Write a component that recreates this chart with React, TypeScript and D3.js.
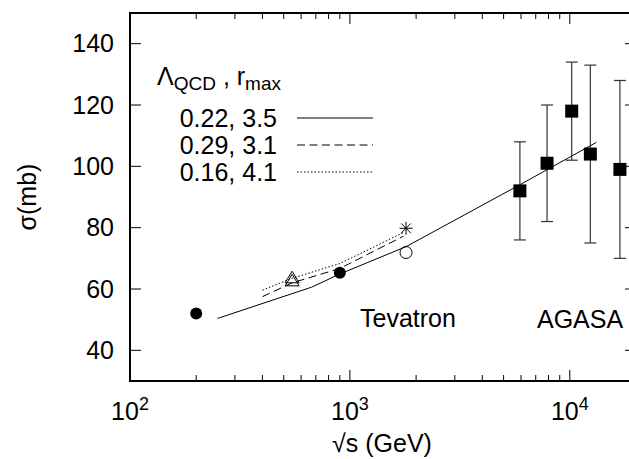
import React from "react";
import * as d3 from "d3";

// ---------- data ----------
const solidX = [250, 670, 900, 1800, 6000, 13200];
const solidY = [50.4, 60.6, 64.9, 73.8, 94.2, 107.8];
const dashedX = [400, 546, 900, 1750];
const dashedY = [57.5, 62.0, 66.7, 77.2];
const dottedX = [400, 546, 900, 1750];
const dottedY = [59.6, 63.5, 68.3, 78.4];

const filledCircleX = [200, 900];
const filledCircleY = [52.0, 65.3];
const triangleX = [546, 546];
const triangleY = [62.4, 63.4];
const starX = [1800];
const starY = [79.8];
const openCircleX = [1800];
const openCircleY = [71.9];

const agasaX = [5930, 7880, 10200, 12400, 16900];
const agasaY = [92, 101, 118, 104, 99];
const agasaErr = [16, 19, 16, 29, 29];

const yTicks = [40, 60, 80, 100, 120, 140];
const xMajor = [100, 1000, 10000];
const xMajorExp = ["2", "3", "4"];
const legendLabels = ["0.22, 3.5", "0.29, 3.1", "0.16, 4.1"];

// ---------- layout ----------
const W = 629;
const H = 459;
const FONT = "'Liberation Sans', Arial, Helvetica, sans-serif";
const FS = 25;

export default function App() {
  const x = d3.scaleLog().domain([100, 20000]).range([130, 636]);
  const y = d3.scaleLinear().domain([30, 150]).range([381, 13]);
  const L = x.range()[0];
  const R = x.range()[1];
  const B = y.range()[0];
  const T = y.range()[1];

  const line = d3
    .line<[number, number]>()
    .x((d) => x(d[0]))
    .y((d) => y(d[1]));
  const zip = (a: number[], b: number[]) => a.map((v, i) => [v, b[i]] as [number, number]);

  const minor: number[] = [];
  for (const dec of [100, 1000, 10000]) {
    for (let k = 2; k <= 9; k++) {
      const v = dec * k;
      if (v < 20000) minor.push(v);
    }
  }

  const majLen = 11;
  const minLen = 6;

  const triPath = (cx: number, cy: number, s: number) =>
    `M${cx},${cy - s * 1.05}L${cx + s},${cy + s * 0.6}L${cx - s},${cy + s * 0.6}Z`;

  const legendRowsY = [118, 145, 172];
  const legendDash = ["none", "8,4.5", "1.5,2"];

  return (
    <svg
      width={W}
      height={H}
      style={{ position: "absolute", left: 0, top: 0, background: "#fff" }}
      fontFamily={FONT}
    >
      <rect x={0} y={0} width={W} height={H} fill="#fff" />

      {/* ticks */}
      {yTicks.map((t) => (
        <g key={"yt" + t} stroke="#000" strokeWidth={1}>
          <line x1={L} x2={L + majLen} y1={y(t)} y2={y(t)} />
          <line x1={R} x2={R - majLen} y1={y(t)} y2={y(t)} />
        </g>
      ))}
      {xMajor.map((t) => (
        <g key={"xt" + t} stroke="#000" strokeWidth={1}>
          <line x1={x(t)} x2={x(t)} y1={B} y2={B - majLen} />
          <line x1={x(t)} x2={x(t)} y1={T} y2={T + majLen} />
        </g>
      ))}
      {minor.map((t) => (
        <g key={"xm" + t} stroke="#000" strokeWidth={1}>
          <line x1={x(t)} x2={x(t)} y1={B} y2={B - minLen} />
          <line x1={x(t)} x2={x(t)} y1={T} y2={T + minLen} />
        </g>
      ))}

      {/* border */}
      <rect x={L} y={T} width={R - L} height={B - T} fill="none" stroke="#000" strokeWidth={2} />

      {/* tick labels */}
      {yTicks.map((t) => (
        <text key={"yl" + t} x={114} y={y(t)} dy="0.35em" textAnchor="end" fontSize={FS}>
          {t}
        </text>
      ))}
      {xMajor.map((t, i) => (
        <text key={"xl" + t} x={x(t)} y={420} textAnchor="middle" fontSize={FS}>
          10
          <tspan fontSize={18} dy={-10}>
            {xMajorExp[i]}
          </tspan>
        </text>
      ))}

      {/* axis labels */}
      <text x={382} y={452} textAnchor="middle" fontSize={FS}>
        √s (GeV)
      </text>
      <text transform="translate(36,197) rotate(-90)" textAnchor="middle" fontSize={FS}>
        σ(mb)
      </text>

      {/* curves */}
      <path d={line(zip(solidX, solidY)) || ""} fill="none" stroke="#000" strokeWidth={1} />
      <path
        d={line(zip(dashedX, dashedY)) || ""}
        fill="none"
        stroke="#000"
        strokeWidth={1}
        strokeDasharray="8,4.5"
      />
      <path
        d={line(zip(dottedX, dottedY)) || ""}
        fill="none"
        stroke="#000"
        strokeWidth={1}
        strokeDasharray="1.5,2"
      />

      {/* AGASA error bars and squares */}
      {agasaX.map((v, i) => {
        const cx = x(v);
        const y1 = y(agasaY[i] + agasaErr[i]);
        const y2 = y(agasaY[i] - agasaErr[i]);
        return (
          <g key={"ag" + i}>
            <g stroke="#333" strokeWidth={1.2}>
              <line x1={cx} x2={cx} y1={y1} y2={y2} />
              <line x1={cx - 6} x2={cx + 6} y1={y1} y2={y1} />
              <line x1={cx - 6} x2={cx + 6} y1={y2} y2={y2} />
            </g>
            <rect x={cx - 6.5} y={y(agasaY[i]) - 6.5} width={13} height={13} fill="#000" />
          </g>
        );
      })}

      {/* other data points */}
      {filledCircleX.map((v, i) => (
        <circle key={"fc" + i} cx={x(v)} cy={y(filledCircleY[i])} r={6} fill="#000" />
      ))}
      {openCircleX.map((v, i) => (
        <circle
          key={"oc" + i}
          cx={x(v)}
          cy={y(openCircleY[i])}
          r={6}
          fill="none"
          stroke="#000"
          strokeWidth={1}
        />
      ))}
      {triangleX.map((v, i) => (
        <path
          key={"tr" + i}
          d={triPath(x(v), y(triangleY[i]), 7)}
          fill="none"
          stroke="#000"
          strokeWidth={1}
        />
      ))}
      {starX.map((v, i) => {
        const cx = x(v);
        const cy = y(starY[i]);
        const s = 6.5;
        return (
          <g key={"st" + i} stroke="#000" strokeWidth={1}>
            <line x1={cx} x2={cx} y1={cy - s} y2={cy + s} />
            <line x1={cx - s} x2={cx + s} y1={cy} y2={cy} />
            <line x1={cx - s * 0.75} x2={cx + s * 0.75} y1={cy - s * 0.75} y2={cy + s * 0.75} />
            <line x1={cx - s * 0.75} x2={cx + s * 0.75} y1={cy + s * 0.75} y2={cy - s * 0.75} />
          </g>
        );
      })}

      {/* legend */}
      <text x={157} y={85} fontSize={FS}>
        Λ
        <tspan fontSize={19} dy={5}>
          QCD
        </tspan>
        <tspan dy={-5}> , r</tspan>
        <tspan fontSize={19} dy={5}>
          max
        </tspan>
      </text>
      {legendLabels.map((lab, i) => (
        <g key={"lg" + i}>
          <text x={277} y={legendRowsY[i]} dy="0.35em" textAnchor="end" fontSize={FS}>
            {lab}
          </text>
          <line
            x1={297}
            x2={373}
            y1={legendRowsY[i]}
            y2={legendRowsY[i]}
            stroke="#000"
            strokeWidth={1}
            strokeDasharray={legendDash[i]}
          />
        </g>
      ))}

      {/* labels */}
      <text x={360} y={327} fontSize={FS}>
        Tevatron
      </text>
      <text x={537} y={328} fontSize={FS}>
        AGASA
      </text>
    </svg>
  );
}
